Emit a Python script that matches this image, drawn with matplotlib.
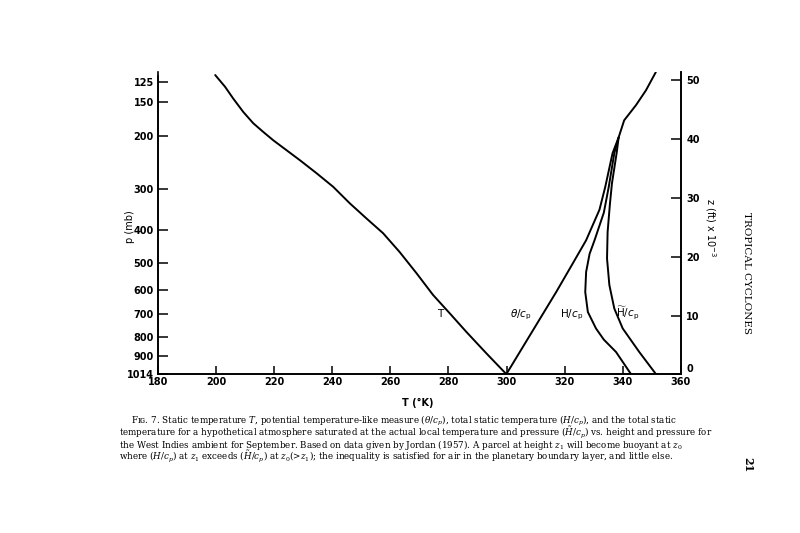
import numpy as np
import matplotlib
matplotlib.use('Agg')
import matplotlib.pyplot as plt

# curves: temperature (K) vs height z (ft x 1e-3)
T_temp = [199.7, 203.1, 205.9, 209.4, 212.8, 216.3, 219.7, 224.3, 228.9, 234.6, 240.3,
          246.0, 251.8, 257.5, 263.2, 269.0, 274.7, 280.4, 286.2, 293.0, 300.0]
T_z    = [50.9, 48.9, 46.9, 44.6, 42.7, 41.2, 39.8, 38.1, 36.4, 34.2, 31.9,
          29.1, 26.5, 24.0, 20.8, 17.2, 13.5, 10.4, 7.2, 3.6, 0.0]

theta_temp = [299.9, 308.5, 317.1, 322.5, 327.4, 332.0, 334.0, 336.5, 338.6, 340.5, 344.6, 348.0, 351.4]
theta_z    = [0.0, 7.0, 14.0, 18.6, 22.8, 28.0, 31.9, 37.6, 40.3, 43.2, 45.8, 48.3, 51.4]

H_temp = [342.9, 337.7, 333.5, 330.8, 328.0, 327.1, 327.4, 328.6, 330.3, 333.5, 335.2, 337.1, 338.6]
H_z    = [0.0, 3.8, 5.9, 7.8, 10.6, 14.0, 17.4, 20.5, 22.8, 27.5, 31.9, 37.6, 40.3]

Hs_temp = [351.5, 345.7, 340.0, 337.1, 335.4, 334.6, 334.8, 335.6, 336.3, 337.9, 338.6]
Hs_z    = [0.0, 3.8, 7.8, 11.2, 15.2, 19.7, 24.2, 29.0, 32.5, 37.6, 40.3]

# pressure ticks (mb) and the heights where they sit on the z scale
p_levels = ['125', '150', '200', '300', '400', '500', '600', '700', '800', '900', '1014']
p_heights = [49.8, 46.3, 40.5, 31.5, 24.5, 19.0, 14.3, 10.3, 6.4, 3.1, 0.0]

x_ticks = [180, 200, 220, 240, 260, 280, 300, 320, 340, 360]
z_ticks = [0, 10, 20, 30, 40, 50]

fig = plt.figure(figsize=(8, 5.33), dpi=100)
ax = fig.add_axes([0.1975, 0.2977, 0.6535, 0.567])

lw = 1.4
for xs, zs in [(T_temp, T_z), (theta_temp, theta_z), (H_temp, H_z), (Hs_temp, Hs_z)]:
    ax.plot(xs, zs, color='black', lw=lw, solid_joinstyle='round', solid_capstyle='round')

ax.set_xlim(180, 360)
ax.set_ylim(0, 51.4)
ax.spines['top'].set_visible(False)
ax.spines['left'].set_bounds(0, 50.7)
for s in ax.spines.values():
    s.set_linewidth(1.2)

tick_font = dict(family='DejaVu Sans', size=7, weight='bold')
ax.set_xticks(x_ticks)
ax.set_xticklabels([str(v) for v in x_ticks], **tick_font)
ax.set_yticks(p_heights)
ax.set_yticklabels(p_levels, **tick_font)
ax.tick_params(axis='x', direction='in', length=6, width=1.1, pad=2)
ax.tick_params(axis='y', direction='in', length=7, width=1.1, pad=3)

ax2 = ax.twinx()
ax2.set_ylim(0, 51.4)
ax2.spines['top'].set_visible(False)
for s in ax2.spines.values():
    s.set_linewidth(1.2)
ax2.set_yticks(z_ticks)
ax2.set_yticklabels([str(v) for v in z_ticks], **tick_font)
ax2.tick_params(axis='y', direction='in', length=7, width=1.1, pad=4)
# the "0" sits a little above the corner so it clears the "360"
ax2.get_yticklabels()[0].set_verticalalignment('bottom')

# curve labels
lab = dict(family='DejaVu Sans', size=7.5, ha='center', va='center', math_fontfamily='dejavusans')
ax.text(277.0, 10.3, 'T', **lab)
ax.text(305.1, 10.1, r'$\theta/c_\mathrm{p}$', **lab)
ax.text(322.3, 10.1, r'$\mathrm{H}/c_\mathrm{p}$', **lab)
ax.text(341.7, 10.3, r'$\widetilde{\mathrm{H}}/c_\mathrm{p}$', **lab)

# axis titles
fig.text(130 / 800, 1 - 227 / 533, 'p (mb)', rotation=90, ha='center', va='center',
         family='DejaVu Sans', size=7)
fig.text(710 / 800, 1 - 228 / 533, r'z (ft) x 10$^{-3}$', rotation=-90, ha='center', va='center',
         family='DejaVu Sans', size=7, math_fontfamily='dejavusans')
fig.text(418 / 800, 1 - 403 / 533, 'T (°K)', ha='center', va='center',
         family='DejaVu Sans', size=7, weight='bold')

# page decorations of the scanned book
fig.text(747 / 800, 1 - 273 / 533, 'TROPICAL CYCLONES', rotation=-90, ha='center', va='center',
         family='DejaVu Serif', size=7.5)
fig.text(748 / 800, 1 - 465 / 533, '21', rotation=-90, ha='center', va='center',
         family='DejaVu Serif', size=8, weight='bold')

caption = [
    r'Fɪɢ. 7. Static temperature $T$, potential temperature-like measure ($\theta/c_p$), total static temperature ($H/c_p$), and the total static',
    r'temperature for a hypothetical atmosphere saturated at the actual local temperature and pressure ($\tilde{H}/c_p$) vs. height and pressure for',
    r'the West Indies ambient for September. Based on data given by Jordan (1957). A parcel at height $z_1$ will become buoyant at $z_0$',
    r'where ($H/c_p$) at $z_1$ exceeds ($\tilde{H}/c_p$) at $z_0$(>$z_1$); the inequality is satisfied for air in the planetary boundary layer, and little else.',
]
cap_x = [131, 119, 119, 119]
cap_y = [424, 436, 448, 460]
for line, cx, cy in zip(caption, cap_x, cap_y):
    fig.text(cx / 800, 1 - cy / 533, line, ha='left', va='baseline', family='DejaVu Serif',
             size=6.3, math_fontfamily='dejavuserif')

fig.savefig('out.png', dpi=100)
